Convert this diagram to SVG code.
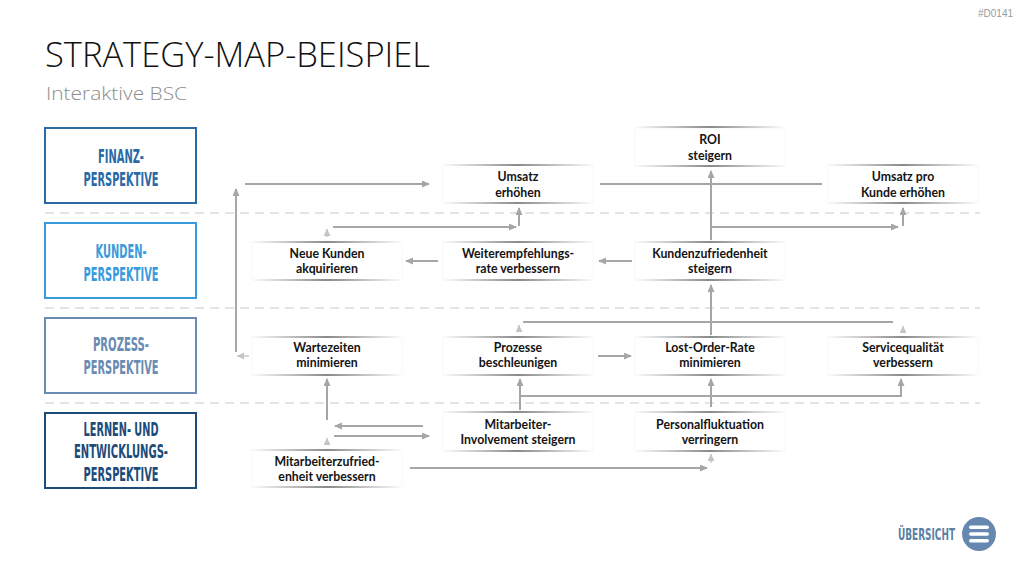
<svg xmlns="http://www.w3.org/2000/svg" width="1024" height="576" viewBox="0 0 1024 576">
<style>
.title{font-family:"Open Sans","Liberation Sans",sans-serif;font-weight:300;font-size:34px;fill:#111}
.sub{font-family:"Open Sans","Liberation Sans",sans-serif;font-weight:300;font-size:18px;fill:#8c8c8c}
.code{font-family:"Liberation Sans",sans-serif;font-size:10px;fill:#9a9a9a}
.persp{font-family:"Liberation Sans Narrow","DejaVu Sans Condensed","Liberation Sans",sans-serif;font-weight:bold;font-size:19px;text-anchor:middle}
.nt{font-family:Lato,"Liberation Sans",sans-serif;font-weight:bold;font-size:12.3px;fill:#141414;text-anchor:middle}
.nbg{fill:#fff;stroke:#f8f8f8;stroke-width:1}
.nl{fill:url(#fadeBoth)}
.sep{stroke:#dcdcdc;stroke-width:1.5;stroke-dasharray:9 6;fill:none}
.c{fill:none;stroke:#a6a6a6;stroke-width:2}
.cl{fill:none;stroke:#c8c8c8;stroke-width:1.5}
.btn{font-family:"Liberation Sans Narrow","DejaVu Sans Condensed","Liberation Sans",sans-serif;font-weight:bold;font-size:15px;fill:#5b7fa6}
</style>
<defs>
<linearGradient id="fadeBoth" x1="0" y1="0" x2="1" y2="0">
<stop offset="0" stop-color="#8a8a8a" stop-opacity="0"/>
<stop offset="0.5" stop-color="#8a8a8a" stop-opacity="1"/>
<stop offset="1" stop-color="#8a8a8a" stop-opacity="0"/>
</linearGradient>
<marker id="ah" markerUnits="userSpaceOnUse" markerWidth="9" markerHeight="8" refX="7" refY="3.5" orient="auto">
<path d="M0,0 L8,3.5 L0,7 z" fill="#a6a6a6"/>
</marker>
<marker id="ahl" markerUnits="userSpaceOnUse" markerWidth="9" markerHeight="8" refX="7" refY="3.5" orient="auto">
<path d="M0,0 L7,3.5 L0,7 z" fill="#c4c4c4"/>
</marker>
<linearGradient id="g2" gradientUnits="userSpaceOnUse" x1="0" y1="352" x2="0" y2="188">
<stop offset="0" stop-color="#a6a6a6" stop-opacity="0.1"/><stop offset="0.6" stop-color="#a6a6a6"/></linearGradient>
<linearGradient id="g3" gradientUnits="userSpaceOnUse" x1="245" y1="0" x2="430" y2="0">
<stop offset="0" stop-color="#a6a6a6" stop-opacity="0.2"/><stop offset="0.5" stop-color="#a6a6a6"/></linearGradient>
<linearGradient id="g5" gradientUnits="userSpaceOnUse" x1="333" y1="0" x2="517" y2="0">
<stop offset="0" stop-color="#a6a6a6" stop-opacity="0.2"/><stop offset="0.5" stop-color="#a6a6a6"/></linearGradient>
<linearGradient id="g7" gradientUnits="userSpaceOnUse" x1="438" y1="0" x2="405" y2="0">
<stop offset="0" stop-color="#a6a6a6" stop-opacity="0.1"/><stop offset="0.7" stop-color="#a6a6a6"/></linearGradient>
<linearGradient id="g8" gradientUnits="userSpaceOnUse" x1="632" y1="0" x2="598" y2="0">
<stop offset="0" stop-color="#a6a6a6" stop-opacity="0.1"/><stop offset="0.7" stop-color="#a6a6a6"/></linearGradient>
<linearGradient id="g12" gradientUnits="userSpaceOnUse" x1="600" y1="0" x2="822" y2="0">
<stop offset="0" stop-color="#a6a6a6" stop-opacity="0.1"/><stop offset="0.3" stop-color="#a6a6a6"/><stop offset="0.7" stop-color="#a6a6a6"/><stop offset="1" stop-color="#a6a6a6" stop-opacity="0.1"/></linearGradient>
<linearGradient id="g14" gradientUnits="userSpaceOnUse" x1="523" y1="0" x2="893" y2="0">
<stop offset="0" stop-color="#a6a6a6" stop-opacity="0.1"/><stop offset="0.25" stop-color="#a6a6a6"/><stop offset="0.75" stop-color="#a6a6a6"/><stop offset="1" stop-color="#a6a6a6" stop-opacity="0.1"/></linearGradient>
<linearGradient id="g17" gradientUnits="userSpaceOnUse" x1="598" y1="0" x2="632" y2="0">
<stop offset="0" stop-color="#a6a6a6" stop-opacity="0.2"/><stop offset="0.7" stop-color="#a6a6a6"/></linearGradient>
<linearGradient id="g19" gradientUnits="userSpaceOnUse" x1="0" y1="420" x2="0" y2="378">
<stop offset="0" stop-color="#a6a6a6" stop-opacity="0.1"/><stop offset="0.6" stop-color="#a6a6a6"/></linearGradient>
<linearGradient id="g20" gradientUnits="userSpaceOnUse" x1="423" y1="0" x2="334" y2="0">
<stop offset="0" stop-color="#a6a6a6" stop-opacity="0.1"/><stop offset="0.5" stop-color="#a6a6a6"/></linearGradient>
<linearGradient id="g21" gradientUnits="userSpaceOnUse" x1="334" y1="0" x2="430" y2="0">
<stop offset="0" stop-color="#a6a6a6" stop-opacity="0.1"/><stop offset="0.5" stop-color="#a6a6a6"/></linearGradient>
<linearGradient id="g23" gradientUnits="userSpaceOnUse" x1="410" y1="0" x2="708" y2="0">
<stop offset="0" stop-color="#a6a6a6" stop-opacity="0.1"/><stop offset="0.4" stop-color="#a6a6a6"/></linearGradient>
</defs>

<rect width="1024" height="576" fill="#fff"/>

<text class="code" x="1013" y="17" text-anchor="end">#D0141</text>
<text class="title" x="45" y="67" textLength="385" lengthAdjust="spacingAndGlyphs">STRATEGY-MAP-BEISPIEL</text>
<text class="sub" x="46" y="100" textLength="141" lengthAdjust="spacingAndGlyphs">Interaktive BSC</text>

<g id="separators">
<line class="sep" x1="45" y1="213" x2="980" y2="213"/>
<line class="sep" x1="45" y1="308" x2="980" y2="308"/>
<line class="sep" x1="45" y1="403" x2="980" y2="403"/>
</g>

<g id="persp-finanz">
<rect x="45" y="128" width="151" height="75" fill="#fff" stroke="#2a6aa6" stroke-width="2"/>
<text class="persp" x="121" y="163" fill="#2a6aa6" textLength="46" lengthAdjust="spacingAndGlyphs">FINANZ-</text>
<text class="persp" x="121" y="186" fill="#2a6aa6" textLength="75" lengthAdjust="spacingAndGlyphs">PERSPEKTIVE</text>
</g>
<g id="persp-kunden">
<rect x="45" y="223" width="151" height="75" fill="#fff" stroke="#3a9bdc" stroke-width="2"/>
<text class="persp" x="121" y="258" fill="#3a9bdc" textLength="51" lengthAdjust="spacingAndGlyphs">KUNDEN-</text>
<text class="persp" x="121" y="281" fill="#3a9bdc" textLength="75" lengthAdjust="spacingAndGlyphs">PERSPEKTIVE</text>
</g>
<g id="persp-prozess">
<rect x="45" y="318" width="151" height="75" fill="#fff" stroke="#6a8bb2" stroke-width="2"/>
<text class="persp" x="121" y="351" fill="#6a8bb2" textLength="56" lengthAdjust="spacingAndGlyphs">PROZESS-</text>
<text class="persp" x="121" y="374" fill="#6a8bb2" textLength="75" lengthAdjust="spacingAndGlyphs">PERSPEKTIVE</text>
</g>
<g id="persp-lernen">
<rect x="45" y="413" width="151" height="75" fill="#fff" stroke="#1d4b7a" stroke-width="2"/>
<text class="persp" x="121" y="436" fill="#1d4b7a" textLength="75" lengthAdjust="spacingAndGlyphs">LERNEN- UND</text>
<text class="persp" x="121" y="458" fill="#1d4b7a" textLength="94" lengthAdjust="spacingAndGlyphs">ENTWICKLUNGS-</text>
<text class="persp" x="121" y="481" fill="#1d4b7a" textLength="75" lengthAdjust="spacingAndGlyphs">PERSPEKTIVE</text>
</g>

<g id="connectors">
<path class="cl" d="M249,356 L237,356" marker-end="url(#ahl)"/>
<path class="c" d="M236,352 L236,189" stroke="url(#g2)" marker-end="url(#ah)"/>
<path class="c" d="M245,184 L429,184" stroke="url(#g3)" marker-end="url(#ah)"/>
<path class="cl" d="M327,237 L327,229" marker-end="url(#ahl)"/>
<path class="c" d="M333,227 L516,227" stroke="url(#g5)" marker-end="url(#ah)"/>
<path class="c" d="M519,226 L519,208" marker-end="url(#ah)"/>
<path class="c" d="M438,261 L406,261" stroke="url(#g7)" marker-end="url(#ah)"/>
<path class="c" d="M632,261 L599,261" stroke="url(#g8)" marker-end="url(#ah)"/>
<path class="c" d="M711,240 L711,171" marker-end="url(#ah)"/>
<path class="c" d="M711,227 L898,227" marker-end="url(#ah)"/>
<path class="c" d="M903,226 L903,208" marker-end="url(#ah)"/>
<path class="c" d="M600,184 L822,184" stroke="url(#g12)"/>
<path class="c" d="M711,335 L711,285" marker-end="url(#ah)"/>
<path class="c" d="M523,322 L893,322" stroke="url(#g14)"/>
<path class="cl" d="M519,332 L519,325" marker-end="url(#ahl)"/>
<path class="cl" d="M903,333 L903,326" marker-end="url(#ahl)"/>
<path class="c" d="M598,356 L631,356" stroke="url(#g17)" marker-end="url(#ah)"/>
<path class="c" d="M520,410 L520,379" marker-end="url(#ah)"/>
<path class="c" d="M520,396 L901,396 L901,379" marker-end="url(#ah)"/>
<path class="c" d="M711,407 L711,379" marker-end="url(#ah)"/>
<path class="c" d="M327,420 L327,379" stroke="url(#g19)" marker-end="url(#ah)"/>
<path class="c" d="M423,426 L335,426" stroke="url(#g20)" marker-end="url(#ah)"/>
<path class="c" d="M334,436 L429,436" stroke="url(#g21)" marker-end="url(#ah)"/>
<path class="cl" d="M327,444 L327,438" marker-end="url(#ahl)"/>
<path class="c" d="M410,468 L707,468" stroke="url(#g23)" marker-end="url(#ah)"/>
<path class="cl" d="M711,463 L711,454" marker-end="url(#ahl)"/>
</g>

<g id="n-roi">
<rect class="nbg" x="635" y="128" width="150" height="38"/>
<rect class="nl" x="635" y="126" width="150" height="2"/><rect class="nl" x="635" y="165" width="150" height="2"/>
<text class="nt" x="710" y="144">ROI</text><text class="nt" x="710" y="160">steigern</text>
</g>
<g id="n-umsatz">
<rect class="nbg" x="443" y="165" width="150" height="38"/>
<rect class="nl" x="443" y="164" width="150" height="2"/><rect class="nl" x="443" y="202" width="150" height="2"/>
<text class="nt" x="518" y="181">Umsatz</text><text class="nt" x="518" y="197">erhöhen</text>
</g>
<g id="n-umsatz-kunde">
<rect class="nbg" x="828" y="165" width="150" height="38"/>
<rect class="nl" x="828" y="164" width="150" height="2"/><rect class="nl" x="828" y="202" width="150" height="2"/>
<text class="nt" x="903" y="181">Umsatz pro</text><text class="nt" x="903" y="197">Kunde erhöhen</text>
</g>
<g id="n-neue-kunden">
<rect class="nbg" x="252" y="242" width="150" height="38"/>
<rect class="nl" x="252" y="241" width="150" height="2"/><rect class="nl" x="252" y="279" width="150" height="2"/>
<text class="nt" x="327" y="258">Neue Kunden</text><text class="nt" x="327" y="273">akquirieren</text>
</g>
<g id="n-weiterempfehlung">
<rect class="nbg" x="443" y="242" width="150" height="38"/>
<rect class="nl" x="443" y="241" width="150" height="2"/><rect class="nl" x="443" y="279" width="150" height="2"/>
<text class="nt" x="518" y="258">Weiterempfehlungs-</text><text class="nt" x="518" y="273">rate verbessern</text>
</g>
<g id="n-kundenzufriedenheit">
<rect class="nbg" x="635" y="242" width="150" height="38"/>
<rect class="nl" x="635" y="241" width="150" height="2"/><rect class="nl" x="635" y="279" width="150" height="2"/>
<text class="nt" x="710" y="258">Kundenzufriedenheit</text><text class="nt" x="710" y="273">steigern</text>
</g>
<g id="n-wartezeiten">
<rect class="nbg" x="252" y="337" width="150" height="38"/>
<rect class="nl" x="252" y="336" width="150" height="2"/><rect class="nl" x="252" y="374" width="150" height="2"/>
<text class="nt" x="327" y="352">Wartezeiten</text><text class="nt" x="327" y="367">minimieren</text>
</g>
<g id="n-prozesse">
<rect class="nbg" x="443" y="337" width="150" height="38"/>
<rect class="nl" x="443" y="336" width="150" height="2"/><rect class="nl" x="443" y="374" width="150" height="2"/>
<text class="nt" x="518" y="352">Prozesse</text><text class="nt" x="518" y="367">beschleunigen</text>
</g>
<g id="n-lost-order">
<rect class="nbg" x="635" y="337" width="150" height="38"/>
<rect class="nl" x="635" y="336" width="150" height="2"/><rect class="nl" x="635" y="374" width="150" height="2"/>
<text class="nt" x="710" y="352">Lost-Order-Rate</text><text class="nt" x="710" y="367">minimieren</text>
</g>
<g id="n-servicequalitaet">
<rect class="nbg" x="828" y="337" width="150" height="38"/>
<rect class="nl" x="828" y="336" width="150" height="2"/><rect class="nl" x="828" y="374" width="150" height="2"/>
<text class="nt" x="903" y="352">Servicequalität</text><text class="nt" x="903" y="367">verbessern</text>
</g>
<g id="n-involvement">
<rect class="nbg" x="443" y="412" width="150" height="39"/>
<rect class="nl" x="443" y="411" width="150" height="2"/><rect class="nl" x="443" y="450" width="150" height="2"/>
<text class="nt" x="518" y="429">Mitarbeiter-</text><text class="nt" x="518" y="444">Involvement steigern</text>
</g>
<g id="n-personalfluktuation">
<rect class="nbg" x="635" y="412" width="150" height="39"/>
<rect class="nl" x="635" y="411" width="150" height="2"/><rect class="nl" x="635" y="450" width="150" height="2"/>
<text class="nt" x="710" y="429">Personalfluktuation</text><text class="nt" x="710" y="444">verringern</text>
</g>
<g id="n-mitarbeiterzufriedenheit">
<rect class="nbg" x="252" y="450" width="150" height="37"/>
<rect class="nl" x="252" y="449" width="150" height="2"/><rect class="nl" x="252" y="486" width="150" height="2"/>
<text class="nt" x="327" y="466">Mitarbeiterzufried-</text><text class="nt" x="327" y="481">enheit verbessern</text>
</g>

<g id="uebersicht">
<text class="btn" x="898" y="540" textLength="57" lengthAdjust="spacingAndGlyphs">ÜBERSICHT</text>
<circle cx="979" cy="534" r="17" fill="#6688b0"/>
<rect x="969" y="525.5" width="20" height="3.5" rx="1.75" fill="#fff"/>
<rect x="969" y="532.3" width="20" height="3.5" rx="1.75" fill="#fff"/>
<rect x="969" y="539" width="20" height="3.5" rx="1.75" fill="#fff"/>
</g>
</svg>
